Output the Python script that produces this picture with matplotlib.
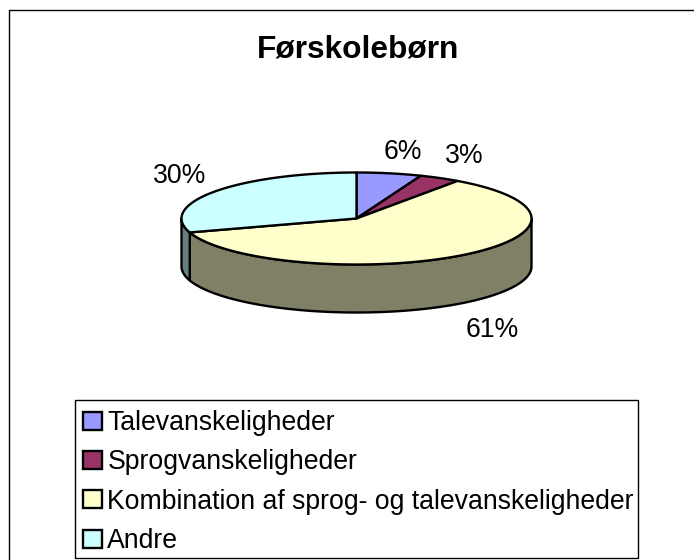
import numpy as np
import matplotlib
matplotlib.use("Agg")
import matplotlib.pyplot as plt
from matplotlib.patches import Patch, Rectangle

plt.rcParams['font.family'] = ['Liberation Sans', 'DejaVu Sans']

title = "Førskolebørn"
categories = ["Talevanskeligheder", "Sprogvanskeligheder",
              "Kombination af sprog- og talevanskeligheder", "Andre"]
slice_shares = [6.0, 3.8, 60.3, 29.9]
pct_labels = ["6%", "3%", "61%", "30%"]
top_colors = ["#9999FF", "#993366", "#FFFFCC", "#CCFFFF"]
side_colors = ["#4C4C80", "#4C1933", "#808066", "#668080"]
label_pos = [(403, 152), (464, 156), (492, 330), (180, 176)]

CX, CY, RX, RY, DEPTH = 356.5, 218.5, 175, 46, 48
LW = 1.7

fig = plt.figure(figsize=(6.94, 5.6), dpi=100)
ax = fig.add_axes([0, 0, 1, 1])
ax.set_xlim(0, 694)
ax.set_ylim(560, 0)
ax.axis("off")

# outer chart frame: left and top edges
ax.plot([9.5, 9.5, 694], [560, 9.5, 9.5], color="black", lw=1.0)


def rim(a0, a1, dy=0.0):
    t = np.radians(np.linspace(a0, a1, max(int(abs(a1 - a0) * 2), 2)))
    return CX + RX * np.sin(t), CY + dy - RY * np.cos(t)


edges = 360 * np.concatenate([[0], np.cumsum(slice_shares)]) / np.sum(slice_shares)

for a0, a1, col in zip(edges[:-1], edges[1:], side_colors):
    s0, s1 = max(a0, 90), min(a1, 270)
    if s1 <= s0:
        continue
    xt, yt = rim(s0, s1)
    xb, yb = rim(s0, s1, DEPTH)
    ax.fill(np.r_[xt, xb[::-1]], np.r_[yt, yb[::-1]], fc=col, ec="black",
            lw=LW, joinstyle="round", zorder=2)

for a0, a1, col in zip(edges[:-1], edges[1:], top_colors):
    x, y = rim(a0, a1)
    ax.fill(np.r_[CX, x], np.r_[CY, y], fc=col, ec="black", lw=LW,
            joinstyle="round", zorder=3)

for s, (x, y) in zip(pct_labels, label_pos):
    ax.text(x, y, s, fontsize=19.2, ha="center", va="center", color="black", zorder=5)

ax.text(358.5, 49, title, fontsize=22.8, fontweight="bold", ha="center", va="center")

# legend box drawn separately so the rows can sit slightly low in it, as in the reference
ax.add_patch(Rectangle((75.5, 400.0), 562.5, 158, fc="white", ec="black", lw=1.0, zorder=4))
handles = [Patch(fc=c, ec="black", lw=1.7) for c in top_colors]
leg = ax.legend(handles, categories, loc="lower left",
                bbox_to_anchor=(75, 562.0), bbox_transform=ax.transData,
                borderaxespad=0, fontsize=19.15, frameon=False,
                handlelength=0.72, handleheight=0.66, handletextpad=0.2,
                labelspacing=0.5, borderpad=0.3)
leg.set_zorder(6)

fig.savefig("out.png", dpi=100)
